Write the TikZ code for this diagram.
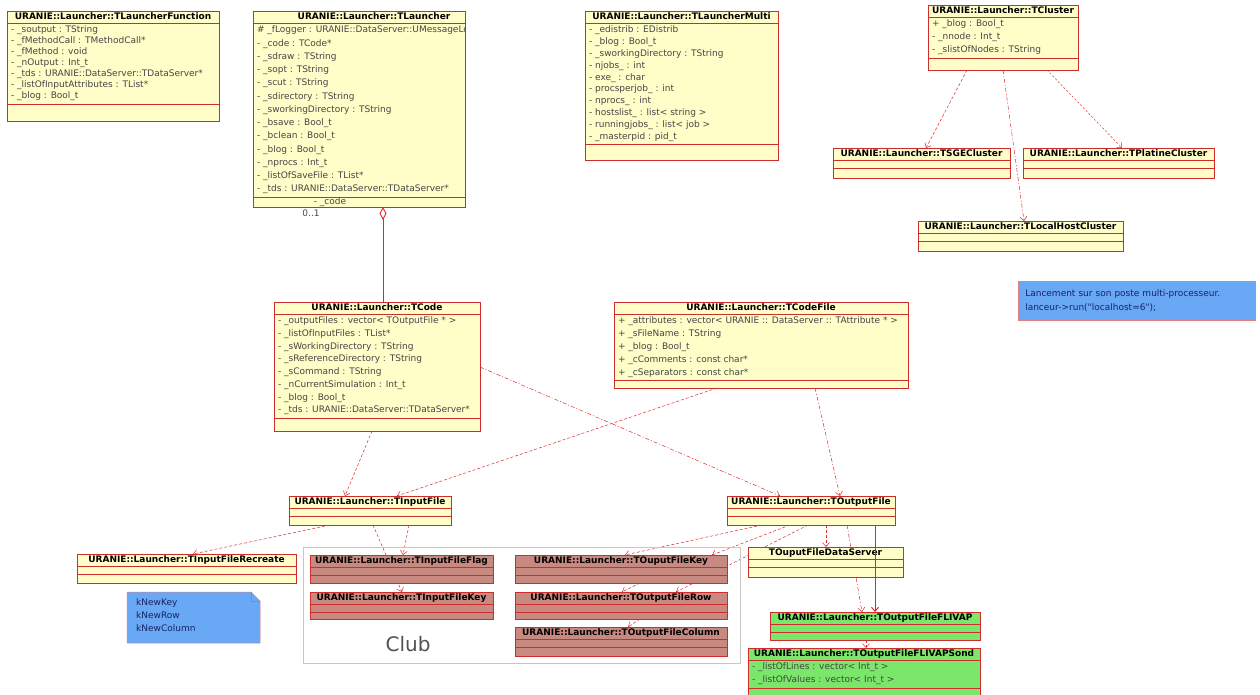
\documentclass[tikz,border=0pt]{standalone}
\usepackage{fontspec}
\newfontfamily\umlfont{DejaVu Sans}
\usetikzlibrary{arrows.meta}
\pgfdeclarelayer{background}
\pgfsetlayers{background,main}
\definecolor{boxyellow}{RGB}{255,253,200}
\definecolor{boxred}{RGB}{205,45,45}
\definecolor{rosebox}{RGB}{200,138,128}
\definecolor{greenbox}{RGB}{122,230,106}
\definecolor{noteblue}{RGB}{104,168,245}
\definecolor{linkred}{RGB}{222,40,40}
\definecolor{attrgray}{RGB}{70,70,70}
\definecolor{notetext}{RGB}{25,35,100}
% one UML class: name, box options, NW corner, title, row options, rows
\newcommand{\umlclass}[6]{%
  \node[umlbox, #2, anchor=north west] (#1) at (#3) {};
  \node[umltitle] (#1-t) at (#1.north) {#4};
  \begin{scope}
    \clip (#1.north west) rectangle (#1.south east);
    \node[umlattr, #5] (#1-a) at (#1-t.south -| #1.west) {#6};
  \end{scope}
  \draw[umlsep] (#1-t.south -| #1.west) -- (#1-t.south -| #1.east);
  \draw[umlsep] (#1-a.south -| #1.west) -- (#1-a.south -| #1.east);
}

\begin{document}
\begin{tikzpicture}[x=1pt,y=-1pt,
  umlbox/.style={draw=boxred, line width=0.7pt, fill=boxyellow, inner sep=0pt, outer sep=0pt},
  umltitle/.style={anchor=north, inner ysep=1.7pt, outer sep=0pt, text height=6.8pt, text depth=1.8pt, font=\umlfont\bfseries\fontsize{9}{10}\selectfont},
  umlattr/.style={anchor=north west, align=left, inner xsep=4pt, inner ysep=3pt, outer sep=0pt, minimum height=8pt, text=attrgray, font=\umlfont\fontsize{9}{11}\selectfont},
  rowpitch/.style={font=\umlfont\fontsize{9}{#1}\selectfont},
  umlsep/.style={draw=boxred, line width=0.6pt},
  dep/.style={color=linkred, line width=0.5pt, dash pattern=on 3pt off 2pt, -{Straight Barb[length=4pt,width=7pt]}},
  depdot/.style={dep, dash pattern=on 4pt off 2pt on 1pt off 2pt},
  solidlink/.style={color=linkred, line width=1pt, -{Straight Barb[length=4pt,width=7pt]}},
  aggr/.style={color=linkred, line width=0.9pt, {Diamond[open,length=13pt,width=7pt]}-},
  rolelabel/.style={font=\umlfont\fontsize{9}{10}\selectfont, text=attrgray, inner sep=1pt},
  notebox/.style={draw=boxred!60, line width=0.5pt, fill=noteblue},
  notetext/.style={anchor=north west, align=left, inner sep=2pt, text=notetext, font=\umlfont\fontsize{9}{13}\selectfont},
  clubframe/.style={draw=black!22, line width=0.7pt, inner sep=0pt, anchor=north west},
  clublabel/.style={font=\umlfont\fontsize{20}{22}\selectfont, text=black!68}]
  \useasboundingbox (0,0) rectangle (1260,695);

  % ---------- top row ----------
  \umlclass{tlf}{minimum width=212, minimum height=110}{7,11}{URANIE::Launcher::TLauncherFunction}{rowpitch=11}
    {- \_soutput : TString\\- \_fMethodCall : TMethodCall*\\- \_fMethod : void\\- \_nOutput : Int\_t\\- \_tds : URANIE::DataServer::TDataServer*\\- \_listOfInputAttributes : TList*\\- \_blog : Bool\_t}
  \umlclass{tl}{minimum width=212, minimum height=196}{253,11}{\hspace*{30pt}URANIE::Launcher::TLauncher}{rowpitch=13.25}
    {\# \_fLogger : URANIE::DataServer::UMessageLogger\\- \_code : TCode*\\- \_sdraw : TString\\- \_sopt : TString\\- \_scut : TString\\- \_sdirectory : TString\\- \_sworkingDirectory : TString\\- \_bsave : Bool\_t\\- \_bclean : Bool\_t\\- \_blog : Bool\_t\\- \_nprocs : Int\_t\\- \_listOfSaveFile : TList*\\- \_tds : URANIE::DataServer::TDataServer*}
  \umlclass{tlm}{minimum width=193, minimum height=149}{585,11}{URANIE::Launcher::TLauncherMulti}{rowpitch=11.8}
    {- \_edistrib : EDistrib\\- \_blog : Bool\_t\\- \_sworkingDirectory : TString\\- njobs\_ : int\\- exe\_ : char\\- procsperjob\_ : int\\- nprocs\_ : int\\- hostslist\_ : list< string >\\- runningjobs\_ : list< job >\\- \_masterpid : pid\_t}
  \umlclass{tcl}{minimum width=150, minimum height=65}{928,5}{URANIE::Launcher::TCluster}{rowpitch=13}
    {+ \_blog : Bool\_t\\- \_nnode : Int\_t\\- \_slistOfNodes : TString}
  \umlclass{tsge}{minimum width=177, minimum height=30}{833,148}{URANIE::Launcher::TSGECluster}{}{}
  \umlclass{tplat}{minimum width=191, minimum height=30}{1023,148}{URANIE::Launcher::TPlatineCluster}{}{}
  \umlclass{tlhc}{minimum width=205, minimum height=30}{918,221}{URANIE::Launcher::TLocalHostCluster}{}{}

  \node[notebox, notetext, anchor=north west, minimum height=39, text width=223, inner xsep=7pt, font=\umlfont\fontsize{9}{14}\selectfont] (runnote) at (1018,281)
    {Lancement sur son poste multi-processeur.\\lanceur->run("localhost=6");};

  % ---------- middle row ----------
  \umlclass{tcode}{minimum width=206, minimum height=129}{274,302}{URANIE::Launcher::TCode}{rowpitch=12.7}
    {- \_outputFiles : vector< TOutputFile * >\\- \_listOfInputFiles : TList*\\- \_sWorkingDirectory : TString\\- \_sReferenceDirectory : TString\\- \_sCommand : TString\\- \_nCurrentSimulation : Int\_t\\- \_blog : Bool\_t\\- \_tds : URANIE::DataServer::TDataServer*}
  \umlclass{tcf}{minimum width=294, minimum height=86}{614,302}{URANIE::Launcher::TCodeFile}{rowpitch=12.8}
    {+ \_attributes : vector< URANIE :: DataServer :: TAttribute * >\\+ \_sFileName : TString\\+ \_blog : Bool\_t\\+ \_cComments : const char*\\+ \_cSeparators : const char*}

  % ---------- file classes ----------
  \umlclass{tif}{minimum width=162, minimum height=29}{289,496}{URANIE::Launcher::TInputFile}{}{}
  \umlclass{tof}{minimum width=168, minimum height=29}{727,496}{URANIE::Launcher::TOutputFile}{}{}
  \umlclass{tifr}{minimum width=219, minimum height=29}{77,554}{URANIE::Launcher::TInputFileRecreate}{}{}

  \draw[notebox] (127,592) -- (251,592) -- (260,601) -- (260,643) -- (127,643) -- cycle;
  \draw[draw=boxred!70, line width=0.5pt] (251,592) -- (251,601) -- (260,601);
  \node[notetext] (keynote) at (134,596) {kNewKey\\kNewRow\\kNewColumn};

  % the Club group
  \node[clubframe, minimum width=437, minimum height=116] (club) at (303,547) {};
  \node[clublabel] (clubname) at (408,644) {Club};
  \umlclass{tiflag}{fill=rosebox, minimum width=183, minimum height=28}{310,555}{URANIE::Launcher::TInputFileFlag}{}{}
  \umlclass{tikey}{fill=rosebox, minimum width=183, minimum height=27}{310,592}{URANIE::Launcher::TInputFileKey}{}{}
  \umlclass{tokey}{fill=rosebox, minimum width=212, minimum height=28}{515,555}{URANIE::Launcher::TOuputFileKey}{}{}
  \umlclass{torow}{fill=rosebox, minimum width=212, minimum height=27}{515,592}{URANIE::Launcher::TOutputFileRow}{}{}
  \umlclass{tocol}{fill=rosebox, minimum width=212, minimum height=29}{515,627}{URANIE::Launcher::TOutputFileColumn}{}{}

  \umlclass{tods}{minimum width=155, minimum height=30}{748,547}{TOuputFileDataServer}{}{}
  \umlclass{flivap}{fill=greenbox, minimum width=210, minimum height=28}{770,612}{URANIE::Launcher::TOutputFileFLIVAP}{}{}
  \umlclass{sond}{fill=greenbox, minimum width=232, minimum height=50}{748,648}{URANIE::Launcher::TOutputFileFLIVAPSond}{rowpitch=13}
    {- \_listOfLines : vector< Int\_t >\\- \_listOfValues : vector< Int\_t >}

  % ---------- links ----------
  \begin{pgfonlayer}{background}
    \draw[aggr] ([xshift=130]tl.south west) -- ([xshift=109]tcode.north west);
    \draw[dep] ([xshift=98]tcode.south west) -- ([xshift=56]tif.north west);
    \draw[dep] ([xshift=103]tcf.south west) -- ([xshift=108]tif.north west);
    \draw[depdot] ([yshift=-65]tcode.north east) -- ([xshift=53]tof.north west);
    \draw[depdot] ([xshift=201]tcf.south west) -- ([xshift=113]tof.north west);
    \draw[dep] ([xshift=41]tif.south west) -- ([xshift=116]tifr.north west);
    \draw[dep] ([xshift=84]tif.south west) -- ([xshift=92]tikey.north west);
    \draw[dep] ([xshift=120]tif.south west) -- ([xshift=93]tiflag.north west);
    \draw[dep] ([xshift=35]tof.south west) -- ([xshift=110]tokey.north west);
    \draw[dep] ([xshift=63]tof.south west) -- ([xshift=197]tokey.north west);
    \draw[dep] ([xshift=81]tof.south west) -- ([xshift=161]torow.north west);
    \draw[dep] ([xshift=125]tokey.south west) -- ([xshift=107]torow.north west);
    \draw[dep] ([xshift=125]torow.south west) -- ([xshift=113]tocol.north west);
    \draw[dep] ([xshift=99]tof.south west) -- ([xshift=78]tods.north west);
    \draw[depdot] ([xshift=120]tof.south west) -- ([xshift=92]flivap.north west);
    \draw[dep] ([xshift=96]flivap.south west) -- ([xshift=118]sond.north west);
    \draw[dep] ([xshift=39]tcl.south west) -- ([xshift=93]tsge.north west);
    \draw[depdot] ([xshift=75]tcl.south west) -- ([xshift=106]tlhc.north west);
    \draw[dep, dash pattern=on 2pt off 2pt] ([xshift=119]tcl.south west) -- ([xshift=99]tplat.north west);
  \end{pgfonlayer}
  \draw[solidlink] ([xshift=148]tof.south west) -- ([xshift=105]flivap.north west);
  \node[rolelabel] (coderole) at ([xshift=77,yshift=5]tl.south west) {- \_code};
  \node[rolelabel] (codemult) at ([xshift=58,yshift=-6]tl.south west) {0..1};
\end{tikzpicture}
\end{document}
